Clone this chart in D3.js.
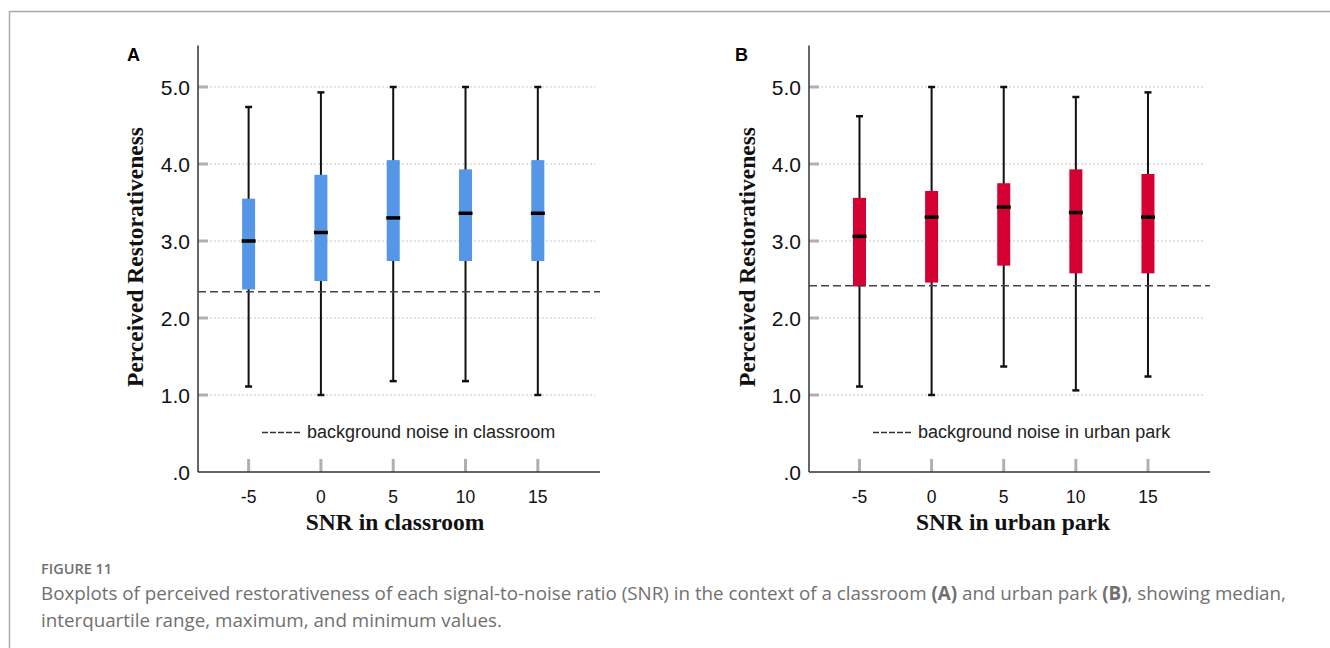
<!DOCTYPE html>
<html lang="en">
<head>
<meta charset="utf-8">
<script src="https://d3js.org/d3.v7.min.js"></script>
<title>Figure 11 boxplots</title>
<style>
  body { margin: 0; background: #fff; }
  svg { display: block; }
</style>
</head>
<body>
<script>
// categories
var snrLevels = ["-5", "0", "5", "10", "15"];

// panel A: classroom
var classroomMin    = [1.11, 1.00, 1.18, 1.18, 1.00];
var classroomQ1     = [2.37, 2.48, 2.74, 2.74, 2.74];
var classroomMedian = [3.00, 3.11, 3.30, 3.36, 3.36];
var classroomQ3     = [3.55, 3.86, 4.05, 3.93, 4.05];
var classroomMax    = [4.74, 4.93, 5.00, 5.00, 5.00];
var classroomNoise  = 2.34;

// panel B: urban park
var parkMin    = [1.11, 1.00, 1.37, 1.06, 1.24];
var parkQ1     = [2.41, 2.46, 2.68, 2.58, 2.58];
var parkMedian = [3.06, 3.31, 3.44, 3.37, 3.31];
var parkQ3     = [3.56, 3.65, 3.75, 3.93, 3.87];
var parkMax    = [4.62, 5.00, 5.00, 4.87, 4.93];
var parkNoise  = 2.42;

// y ticks
var yTickValues = [0, 1, 2, 3, 4, 5];
var yTickLabels = [".0", "1.0", "2.0", "3.0", "4.0", "5.0"];

var width = 1330, height = 648;

var svg = d3.select("body").append("svg")
  .attr("width", width)
  .attr("height", height);

// page frame
svg.append("path")
  .attr("d", "M9.5," + height + "V11.5H" + width)
  .attr("fill", "none")
  .attr("stroke", "#aaa")
  .attr("stroke-width", 1.5);

var y = d3.scaleLinear().domain([0, 5.54]).range([472, 45.4]);

function drawPanel(opt) {
  var g = svg.append("g");
  var x = d3.scaleLinear().domain([-0.7, 4.86]).range([opt.x0, opt.x1]);

  var rows = snrLevels.map(function(s, i) {
    return {snr: s, i: i, min: opt.min[i], q1: opt.q1[i], med: opt.med[i], q3: opt.q3[i], max: opt.max[i]};
  });

  // gridlines (dotted)
  g.selectAll(".grid")
    .data(yTickValues.filter(function(d) { return d > 0; }))
    .join("line")
    .attr("x1", opt.x0).attr("x2", opt.x1 - 5)
    .attr("y1", function(d) { return y(d); })
    .attr("y2", function(d) { return y(d); })
    .attr("stroke", "#c8c8c8")
    .attr("stroke-width", 1)
    .attr("stroke-dasharray", "2,2");

  // gray y tick marks inside the plot
  g.selectAll(".ytick")
    .data(yTickValues.filter(function(d) { return d > 0; }))
    .join("line")
    .attr("x1", opt.x0).attr("x2", opt.x0 + 10)
    .attr("y1", function(d) { return y(d); })
    .attr("y2", function(d) { return y(d); })
    .attr("stroke", "#b0b0b0")
    .attr("stroke-width", 3);

  // y tick labels
  g.selectAll(".ylab")
    .data(yTickValues)
    .join("text")
    .attr("x", opt.x0 - 8)
    .attr("y", function(d) { return y(d); })
    .attr("dy", "0.36em")
    .attr("text-anchor", "end")
    .style("font-family", "'Liberation Sans', Arial, sans-serif")
    .style("font-size", "21px")
    .attr("fill", "#111")
    .text(function(d, i) { return yTickLabels[i]; });

  // gray x tick marks
  g.selectAll(".xtick")
    .data(rows)
    .join("line")
    .attr("x1", function(d) { return x(d.i); })
    .attr("x2", function(d) { return x(d.i); })
    .attr("y1", y(0) - 13).attr("y2", y(0))
    .attr("stroke", "#b0b0b0")
    .attr("stroke-width", 3);

  // x tick labels
  g.selectAll(".xlab")
    .data(rows)
    .join("text")
    .attr("x", function(d) { return x(d.i); })
    .attr("y", 503)
    .attr("text-anchor", "middle")
    .style("font-family", "'Liberation Sans', Arial, sans-serif")
    .style("font-size", "17.5px")
    .attr("fill", "#111")
    .text(function(d) { return d.snr; });

  // axes lines
  g.append("line")
    .attr("x1", opt.x0).attr("x2", opt.x0)
    .attr("y1", y(5.54)).attr("y2", y(0))
    .attr("stroke", "#333").attr("stroke-width", 1.5);
  g.append("line")
    .attr("x1", opt.x0).attr("x2", opt.x1)
    .attr("y1", y(0)).attr("y2", y(0))
    .attr("stroke", "#333").attr("stroke-width", 1.5);

  var boxW = 13, capW = 7;

  // whiskers
  g.selectAll(".whisker")
    .data(rows)
    .join("line")
    .attr("x1", function(d) { return x(d.i); })
    .attr("x2", function(d) { return x(d.i); })
    .attr("y1", function(d) { return y(d.min); })
    .attr("y2", function(d) { return y(d.max); })
    .attr("stroke", "#111")
    .attr("stroke-width", 2);

  g.selectAll(".capTop")
    .data(rows)
    .join("line")
    .attr("x1", function(d) { return x(d.i) - capW / 2; })
    .attr("x2", function(d) { return x(d.i) + capW / 2; })
    .attr("y1", function(d) { return y(d.max); })
    .attr("y2", function(d) { return y(d.max); })
    .attr("stroke", "#111")
    .attr("stroke-width", 2.5);

  g.selectAll(".capBot")
    .data(rows)
    .join("line")
    .attr("x1", function(d) { return x(d.i) - capW / 2; })
    .attr("x2", function(d) { return x(d.i) + capW / 2; })
    .attr("y1", function(d) { return y(d.min); })
    .attr("y2", function(d) { return y(d.min); })
    .attr("stroke", "#111")
    .attr("stroke-width", 2.5);

  // boxes
  g.selectAll(".box")
    .data(rows)
    .join("rect")
    .attr("x", function(d) { return x(d.i) - boxW / 2; })
    .attr("width", boxW)
    .attr("y", function(d) { return y(d.q3); })
    .attr("height", function(d) { return y(d.q1) - y(d.q3); })
    .attr("fill", opt.color);

  // medians
  g.selectAll(".median")
    .data(rows)
    .join("line")
    .attr("x1", function(d) { return x(d.i) - boxW / 2 - 0.5; })
    .attr("x2", function(d) { return x(d.i) + boxW / 2 + 0.5; })
    .attr("y1", function(d) { return y(d.med); })
    .attr("y2", function(d) { return y(d.med); })
    .attr("stroke", "#000")
    .attr("stroke-width", 3.5);

  // background noise reference line
  g.append("line")
    .attr("x1", opt.x0).attr("x2", opt.x1)
    .attr("y1", y(opt.noise)).attr("y2", y(opt.noise))
    .attr("stroke", "#444")
    .attr("stroke-width", 1.5)
    .attr("stroke-dasharray", "8,4");

  // legend
  g.append("line")
    .attr("x1", opt.legendX).attr("x2", opt.legendX + 40)
    .attr("y1", 432.5).attr("y2", 432.5)
    .attr("stroke", "#333")
    .attr("stroke-width", 1.3)
    .attr("stroke-dasharray", "6,2");
  g.append("text")
    .attr("x", opt.legendX + 45)
    .attr("y", 438)
    .style("font-family", "'Liberation Sans', Arial, sans-serif")
    .style("font-size", "18px")
    .attr("fill", "#222")
    .text(opt.legendText);

  // axis titles
  g.append("text")
    .attr("x", opt.titleX)
    .attr("y", 530)
    .attr("text-anchor", "middle")
    .style("font-family", "'Liberation Serif', 'Times New Roman', serif")
    .style("font-weight", "bold")
    .style("font-size", "23.5px")
    .attr("fill", "#111")
    .text(opt.xTitle);

  g.append("text")
    .attr("transform", "translate(" + opt.yTitleX + ",257) rotate(-90)")
    .attr("text-anchor", "middle")
    .style("font-family", "'Liberation Serif', 'Times New Roman', serif")
    .style("font-weight", "bold")
    .style("font-size", "23.5px")
    .attr("fill", "#111")
    .text("Perceived Restorativeness");

  // panel letter
  g.append("text")
    .attr("x", opt.letterX)
    .attr("y", 61)
    .style("font-family", "'Liberation Sans', Arial, sans-serif")
    .style("font-weight", "bold")
    .style("font-size", "18px")
    .attr("fill", "#000")
    .text(opt.letter);
}

drawPanel({
  x0: 198, x1: 600, color: "#5596e6",
  min: classroomMin, q1: classroomQ1, med: classroomMedian, q3: classroomQ3, max: classroomMax,
  noise: classroomNoise, legendX: 262, legendText: "background noise in classroom",
  titleX: 395, xTitle: "SNR in classroom", yTitleX: 143, letter: "A", letterX: 127
});

drawPanel({
  x0: 809, x1: 1210, color: "#d50032",
  min: parkMin, q1: parkQ1, med: parkMedian, q3: parkQ3, max: parkMax,
  noise: parkNoise, legendX: 873, legendText: "background noise in urban park",
  titleX: 1013, xTitle: "SNR in urban park", yTitleX: 755, letter: "B", letterX: 735
});

// caption
var caption = svg.append("g")
  .style("font-family", "'Open Sans', 'Noto Sans', sans-serif")
  .attr("fill", "#707070");

caption.append("text")
  .attr("x", 41).attr("y", 574)
  .style("font-size", "14.5px")
  .style("font-weight", "600")
  .text("FIGURE 11");

var line1 = caption.append("text").attr("x", 41).attr("y", 600).style("font-size", "18.8px");
line1.append("tspan").text("Boxplots of perceived restorativeness of each signal-to-noise ratio (SNR) in the context of a classroom ");
line1.append("tspan").style("font-weight", "bold").text("(A)");
line1.append("tspan").text(" and urban park ");
line1.append("tspan").style("font-weight", "bold").text("(B)");
line1.append("tspan").text(", showing median,");

caption.append("text")
  .attr("x", 41).attr("y", 627)
  .style("font-size", "18.8px")
  .text("interquartile range, maximum, and minimum values.");
</script>
</body>
</html>
